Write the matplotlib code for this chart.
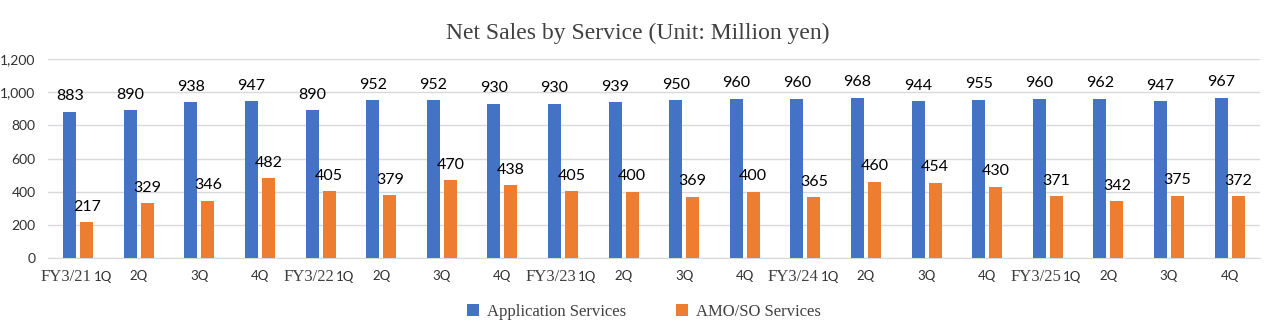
import numpy as np
import matplotlib.pyplot as plt
from matplotlib.transforms import blended_transform_factory

# Quarterly net sales by service (million yen)
fy_labels = ['FY3/21', 'FY3/22', 'FY3/23', 'FY3/24', 'FY3/25']
quarters = ['1Q', '2Q', '3Q', '4Q']
app_services = [883, 890, 938, 947, 890, 952, 952, 930, 930, 939,
                950, 960, 960, 968, 944, 955, 960, 962, 947, 967]
amo_services = [217, 329, 346, 482, 405, 379, 470, 438, 405, 400,
                369, 400, 365, 460, 454, 430, 371, 342, 375, 372]

blue = '#4472c4'
orange = '#ed7d31'
serif = 'Liberation Serif'
sans = 'Lato'

fig = plt.figure(figsize=(12.75, 3.28), dpi=100)
ax = fig.add_axes([0.0376, 0.2134, 0.9506, 0.6066])

x = np.arange(len(app_services))
w = 0.215
off = 0.14
b1 = ax.bar(x - off, app_services, w, color=blue, label='Application Services', zorder=3)
b2 = ax.bar(x + off, amo_services, w, color=orange, label='AMO/SO Services', zorder=3)

for bars, vals in ((b1, app_services), (b2, amo_services)):
    for rect, v in zip(bars, vals):
        ax.annotate(str(v), (rect.get_x() + rect.get_width() / 2, v),
                    xytext=(0, 6), textcoords='offset points',
                    ha='center', va='bottom', fontsize=11.5,
                    family=sans, color='#000000', clip_on=False)

ax.set_xlim(-0.5, len(x) - 0.5)
ax.set_ylim(0, 1200)
ax.set_yticks(range(0, 1201, 200))
ax.set_yticklabels([f'{v:,}' for v in range(0, 1201, 200)],
                   family=sans, fontsize=10, color='#303030')
ax.tick_params(axis='y', length=0, pad=9)
ax.tick_params(axis='x', length=0)
ax.set_xticks([])
ax.grid(axis='y', color='#d9d9d9', linewidth=1, zorder=0)
for s in ('left', 'right', 'top'):
    ax.spines[s].set_visible(False)
ax.spines['bottom'].set_color('#d9d9d9')

# category labels: fiscal year prefix in serif, quarter in sans
tr = blended_transform_factory(ax.transData, ax.transAxes)
for i in x:
    q = quarters[i % 4]
    if i % 4 == 0:
        split = i + 0.22
        ax.text(split, -0.095, fy_labels[i // 4], transform=tr, ha='right', va='center',
                family=serif, fontsize=12, color='#404040')
        ax.text(split + 0.03, -0.095, q, transform=tr, ha='left', va='center',
                family=sans, fontsize=9.5, color='#303030')
    else:
        ax.text(i, -0.09, q, transform=tr, ha='center', va='center',
                family=sans, fontsize=9.5, color='#303030')

fig.text(0.5, 1 - 33 / 328, 'Net Sales by Service (Unit: Million yen)',
         ha='center', va='center', family=serif, fontsize=17, color='#404040')

fig.legend(loc='center', bbox_to_anchor=(0.505, 0.05), ncol=2, frameon=False,
           prop={'family': serif, 'size': 12}, handlelength=0.7, handleheight=0.7,
           columnspacing=3.0, handletextpad=0.5, labelcolor='#404040')

fig.savefig('out.png', dpi=100, facecolor='white')
